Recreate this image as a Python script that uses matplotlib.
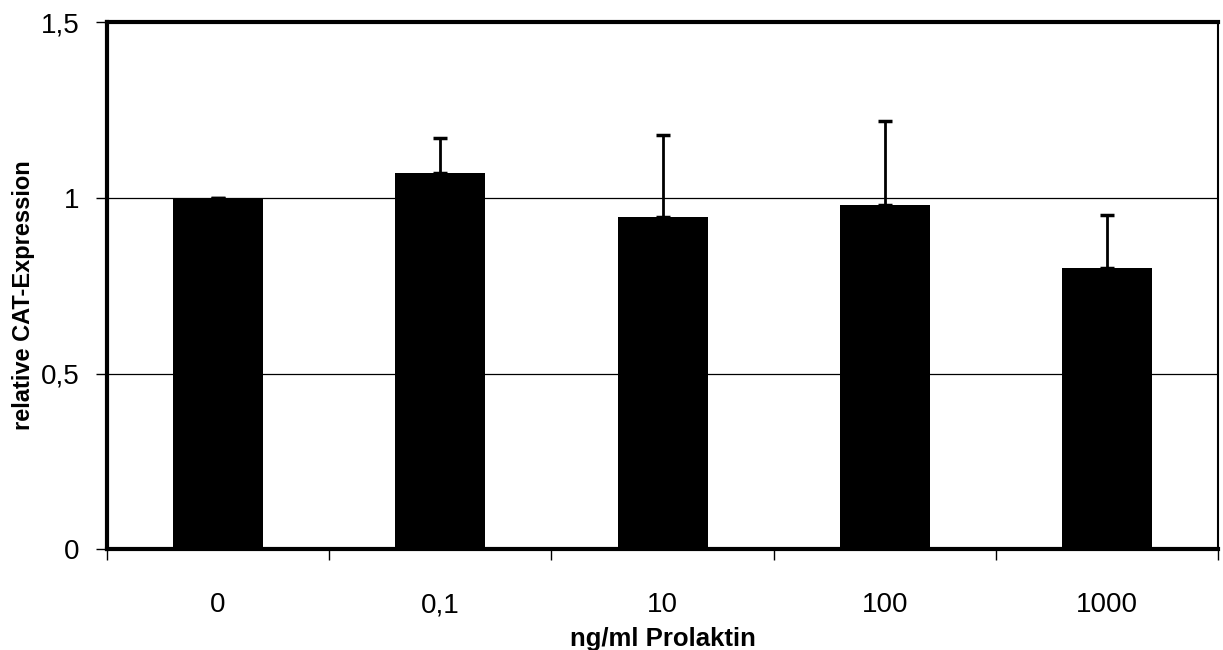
import numpy as np
import matplotlib
matplotlib.use('Agg')
import matplotlib.pyplot as plt

# Data
categories = ['0', '0,1', '10', '100', '1000']
values = [1.0, 1.07, 0.945, 0.98, 0.80]
errors = [0.0, 0.10, 0.235, 0.24, 0.15]
ytick_vals = [0, 0.5, 1, 1.5]
ytick_labels = ['0', '0,5', '1', '1,5']

plt.rcParams['font.family'] = ['Liberation Sans', 'DejaVu Sans']

fig = plt.figure(figsize=(12.23, 6.5), dpi=100)
ax = fig.add_axes([0.0875, 0.155, 0.9085, 0.811])

x = np.arange(len(categories))
ax.bar(x, values, width=0.405, color='black', zorder=3)
ax.errorbar(x, values, yerr=[np.zeros(len(errors)), errors], fmt='none',
            ecolor='black', elinewidth=2, capsize=5, capthick=2.5, zorder=4)

ax.set_xlim(-0.5, len(categories) - 0.5)
ax.set_ylim(0, 1.5)
ax.set_yticks(ytick_vals)
ax.set_yticklabels(ytick_labels, fontsize=20)
ax.yaxis.grid(True, color='black', linewidth=0.9, zorder=0)
ax.set_axisbelow(True)

# category labels centred, ticks at boundaries
ax.set_xticks(x)
ax.set_xticklabels(categories, fontsize=20)
ax.tick_params(axis='x', length=0, pad=31)
ax.set_xticks(np.arange(len(categories) + 1) - 0.5, minor=True)
ax.tick_params(axis='x', which='minor', length=8, width=1, direction='out')
ax.tick_params(axis='y', length=8, width=1, direction='out', pad=12)

ax.set_xlabel('ng/ml Prolaktin', fontsize=18.5, fontweight='bold', labelpad=6)
# y label placed in figure coords, left of the tick labels
fig.text(0.019, 0.546, 'relative CAT-Expression', rotation=90,
         ha='center', va='center', fontsize=17, fontweight='bold')

for side in ['left', 'bottom', 'top']:
    ax.spines[side].set_linewidth(3)
ax.spines['right'].set_linewidth(1.5)

fig.savefig('out.png', dpi=100)
